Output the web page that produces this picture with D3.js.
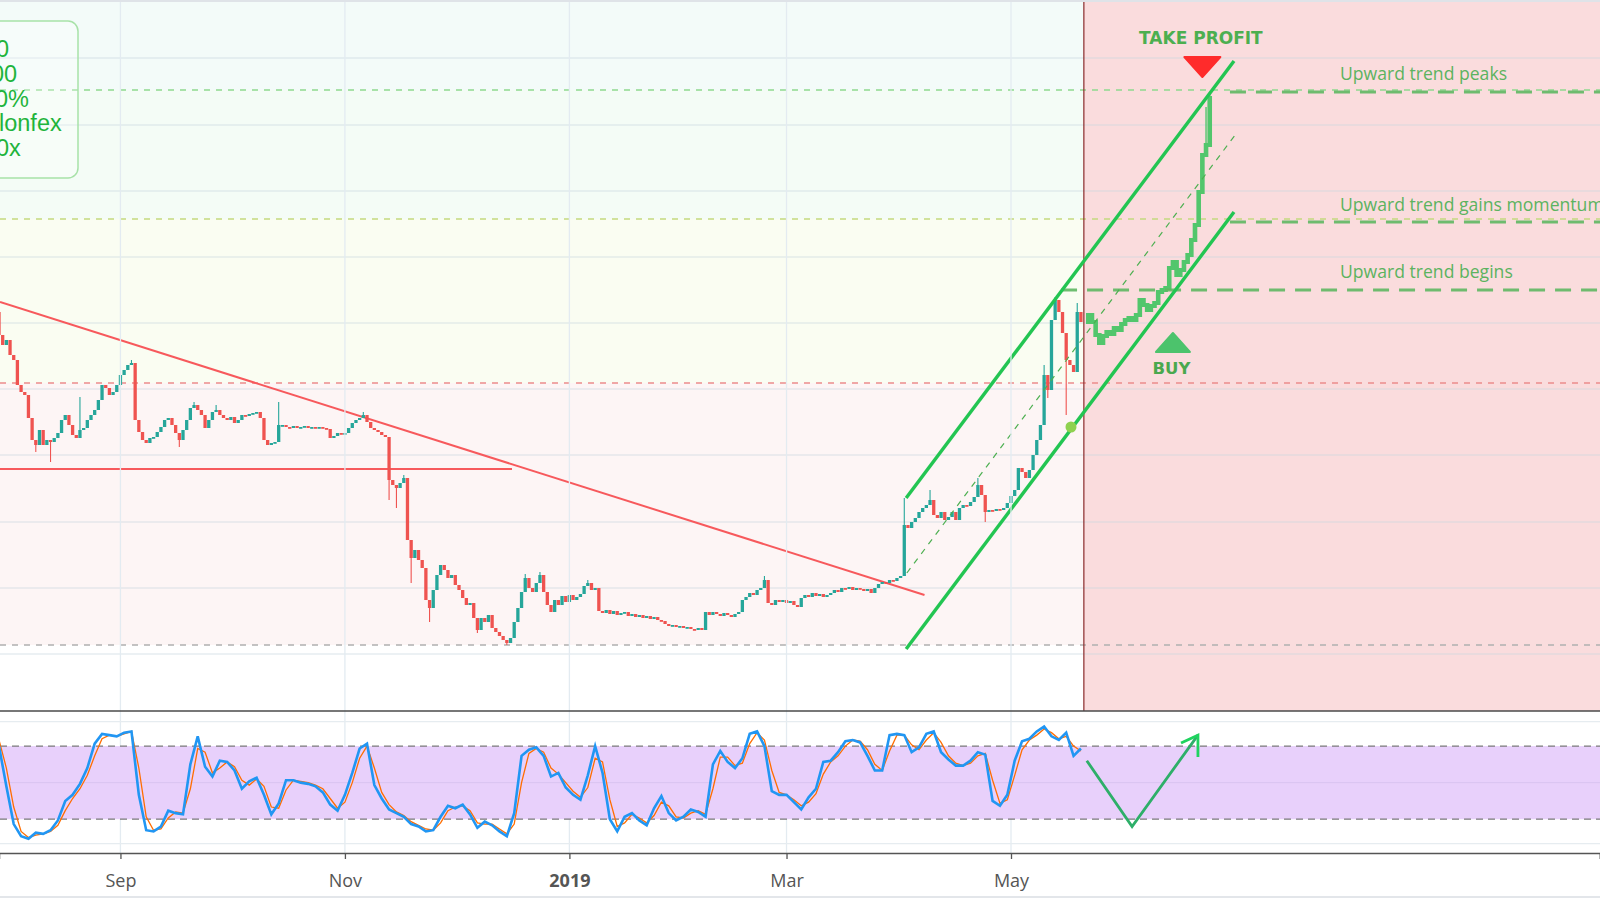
<!DOCTYPE html>
<html><head><meta charset="utf-8">
<script src="https://cdn.jsdelivr.net/npm/d3@7"></script>
<style>html,body{margin:0;padding:0;background:#fff;overflow:hidden}</style>
</head><body><svg id="c" width="1600" height="900"></svg>
<script>
// ---------------- DATA ----------------
const startDay = Date.UTC(2018, 6, 30);      // day index 0
const firstOpen = 688;
// daily closes, day 0 .. 294
const closes = [
665,655,660,645,640,615,608,605,582,560,
555,570,555,560,558,562,567,580,585,575,
565,562,570,572,580,585,590,600,615,612,
605,608,615,625,630,635,637,580,568,560,
557,562,563,568,573,580,582,575,567,560,
570,580,592,595,590,585,572,580,588,590,
585,582,580,583,577,580,585,584,586,587,
588,582,560,555,557,558,575,575,573,572,
574,572,573,574,572,573,572,573,572,571,
562,564,567,566,567,572,577,580,582,585,
578,572,570,568,565,563,520,515,512,517,
522,460,442,450,440,432,400,392,410,425,
435,430,422,425,415,410,402,395,397,382,
370,382,378,385,372,368,364,360,357,362,
378,392,408,422,412,408,417,425,408,395,
388,400,395,404,398,405,400,403,406,414,
417,410,412,389,387,390,386,389,385,387,
388,384,386,383,385,382,384,381,383,380,
379,376,374,375,373,374,372,373,371,370,
372,370,388,385,388,386,384,387,385,383,
386,388,400,403,407,405,410,412,420,397,
395,400,398,400,397,399,395,393,402,405,
403,407,404,406,403,405,407,410,408,412,
411,413,410,412,411,409,411,407,412,416,
418,417,420,419,422,424,475,472,478,482,
488,492,495,500,485,482,488,480,483,488,
480,492,495,494,498,503,515,505,488,490,
489,491,490,492,497,504,510,532,528,522,
530,545,560,575,625,610,680,700,688,667,
640,635,628,688,678
];
// notable wicks: [day, high, low]
const wicks = [
[10,null,548],[14,null,538],[22,603,null],[36,640,null],[49,null,553],[53,598,null],
[59,595,null],[76,598,null],[99,588,null],[106,null,500],[108,null,492],[110,525,null],
[112,null,417],[117,null,378],[130,null,367],[138,null,355],[143,426,null],[147,428,null],
[160,420,null],[208,424,null],[246,502,null],[253,510,null],[266,522,null],[268,null,478],
[284,635,null],[285,null,602],[287,703,null],[288,700,null],[290,null,585],[293,697,null]
];
// projected path (drawn in green), days 296 .. 329
const projStart = 296;
const projCloses = [685,678,665,657,664,668,666,672,670,676,680,682,680,685,700,695,690,694,697,708,
710,712,732,738,725,730,738,745,760,775,808,845,855,902];
const projWicks = [[328,893,null],[329,907,null]];

// Stoch RSI, one value every 2 days from day 0
const oscStep = 2;
const kValues = [80,47,16,6,4,9,8,11,19,35,40,49,62,82,90,89,88,91,92,40,
11,10,14,27,25,24,65,88,63,55,68,67,60,45,51,54,40,24,33,52,
52,50,49,47,42,32,27,40,58,78,82,48,37,28,25,22,16,14,10,11,
22,31,29,32,24,13,18,15,10,6,25,72,77,79,72,55,58,46,40,36,
56,80,58,20,10,22,25,19,15,29,39,25,19,22,28,26,22,65,76,67,
62,70,90,92,80,43,40,40,34,28,38,45,67,68,75,84,85,83,72,60,
60,89,90,89,75,79,90,92,75,69,64,64,68,75,73,35,31,40,68,84,
86,92,96,88,85,91,72,78];
const dValues = [85,62,30,10,5,7,8,10,15,27,37,45,56,72,86,89,88,90,92,62,
22,11,12,21,26,25,45,78,75,58,62,67,63,52,48,53,47,30,29,44,
52,51,50,48,45,37,29,34,50,70,80,62,42,32,26,23,18,15,12,11,
17,27,30,31,27,17,16,16,12,8,16,50,74,78,75,62,57,50,43,38,
46,70,67,36,14,17,24,21,17,23,34,31,22,21,25,27,24,45,71,71,
64,66,82,91,85,60,42,40,36,31,34,41,57,67,72,80,85,84,77,65,
60,76,89,89,81,77,85,91,83,72,66,64,66,72,74,52,33,36,56,77,
85,89,94,91,86,88,80,76];

const tickDates = ["2018-09-01","2018-11-01","2019-01-01","2019-03-01","2019-05-01"];
const tickLabels = ["Sep","Nov","2019","Mar","May"];
const gridPrices = [942,875,809,743,677,611,545,478,412,346];

// fib-style levels and bands
const bandEdges = [1000, 910, 781, 617, 355];
const bandColors = ["#f3fbf9","#f4fcf6","#fafdf2","#fdf5f5"];
const fibLevels = [910, 781, 617, 355];
const fibColors = ["#8fd98f","#c3d97f","#ec8c8c","#b0b0b0"];

// annotations: [day index, price]
const trendLine = [[0.27,698],[251.5,405]];
const supportLine = [[0.27,531],[139.4,531]];
const channelUpper = [[246.5,502],[335.6,939]];
const channelLower = [[246.5,351],[335.6,788]];
const channelMid = [[246.7,427],[335.9,865]];
const signalLevels = [ {p:908, from:334.5, label:"Upward trend peaks", lp:920},
                       {p:778, from:334.5, label:"Upward trend gains momentum", lp:789},
                       {p:710, from:288.6, label:"Upward trend begins", lp:722} ];
const labelDay = 364.4;
const cutDay = 294.8;
const dotPoint = [291.3, 573];
const takeProfit = {day:326.6, p:956, triDay:327.0, triTop:943, triApex:923};
const buy = {day:318.6, p:626, triDay:319.0, triApex:667, triBase:648};
// oscillator arrow: [day, value]
const arrowPath = [[295.6,68],[307.9,14],[325.8,89]];
const arrowHead = [[321.2,82.5],[325.8,89],[325.8,71]];
const boxLines = ["0","00","0%","lonfex","0x"];

// ---------------- CHART ----------------
const svg = d3.select("#c");
const W = 1600, mainBottom = 711, oscBottom = 853;
const dayDate = d => new Date(startDay + d * 864e5);
const x = d3.scaleUtc().domain([dayDate(0), dayDate(435)]).range([-1, -1 + 435 * 3.68]);
const xd = d => x(dayDate(d));
const y = d3.scaleLinear().domain([289, 1000]).range([mainBottom, 0]);
const yo = d3.scaleLinear().domain([0, 100]).range([843.6, 721.7]);

const defs = svg.append("defs");
defs.append("clipPath").attr("id","mainClip").append("rect").attr("x",0).attr("y",0).attr("width",W).attr("height",mainBottom);
defs.append("clipPath").attr("id","oscClip").append("rect").attr("x",0).attr("y",mainBottom).attr("width",W).attr("height",oscBottom-mainBottom);

const main = svg.append("g").attr("clip-path","url(#mainClip)");
// background bands
bandColors.forEach((c,i)=>{
  main.append("rect").attr("x",0).attr("width",W)
    .attr("y",y(bandEdges[i])).attr("height",y(bandEdges[i+1])-y(bandEdges[i])).attr("fill",c);
});
// pink future region
main.append("rect").attr("x",xd(cutDay)).attr("y",0).attr("width",W-xd(cutDay)).attr("height",mainBottom)
  .attr("fill","#fadcdd");
// grid
main.selectAll(".hg").data(gridPrices).enter().append("line")
  .attr("x1",0).attr("x2",W).attr("y1",d=>y(d)).attr("y2",d=>y(d))
  .attr("stroke","rgba(200,212,222,0.45)").attr("stroke-width",1.3);
const tickDs = tickDates.map(s=>new Date(s+"T00:00:00Z"));
svg.selectAll(".vg").data(tickDs).enter().append("line")
  .attr("x1",d=>x(d)).attr("x2",d=>x(d)).attr("y1",0).attr("y2",oscBottom)
  .attr("stroke","#e3ebf1").attr("stroke-width",1.3);

// fib lines
fibLevels.forEach((p,i)=>{
  main.append("line").attr("x1",0).attr("x2",W).attr("y1",y(p)).attr("y2",y(p))
    .attr("stroke",fibColors[i]).attr("stroke-width",1.6).attr("stroke-dasharray","6,6");
});
main.append("line").attr("x1",xd(cutDay)).attr("x2",xd(cutDay)).attr("y1",0).attr("y2",mainBottom)
  .attr("stroke","#8a2a2a").attr("stroke-width",1.2);
// support & trend line
const line = d3.line().x(d=>xd(d[0])).y(d=>y(d[1]));
main.append("path").attr("d",line(supportLine)).attr("stroke","#f7595c").attr("stroke-width",2).attr("fill","none");
main.append("path").attr("d",line(trendLine)).attr("stroke","#f7595c").attr("stroke-width",2).attr("fill","none");

// candles
const wickMap = new Map(wicks.map(w=>[w[0],w]));
const candles = closes.map((c,i)=>{
  const o = i===0 ? firstOpen : closes[i-1];
  const w = wickMap.get(i);
  let hi = Math.max(o,c), lo = Math.min(o,c);
  if (w){ if (w[1]!=null) hi = w[1]; if (w[2]!=null) lo = w[2]; }
  return {d:i,o,c,hi,lo,up:c>=o};
});
const cg = main.append("g");
const bw = 3.3;
cg.selectAll(".wk").data(candles).enter().append("line")
  .attr("x1",d=>xd(d.d)).attr("x2",d=>xd(d.d)).attr("y1",d=>y(d.hi)).attr("y2",d=>y(d.lo))
  .attr("stroke",d=>d.up?"#26a69a":"#ef5350").attr("stroke-width",1.1);
cg.selectAll(".bd").data(candles).enter().append("rect")
  .attr("x",d=>xd(d.d)-bw/2).attr("width",bw)
  .attr("y",d=>y(Math.max(d.o,d.c))).attr("height",d=>Math.max(1.8,Math.abs(y(d.o)-y(d.c))))
  .attr("fill",d=>d.up?"#26a69a":"#ef5350");

// projected candles
const pwMap = new Map(projWicks.map(w=>[w[0],w]));
const proj = projCloses.map((c,i)=>{
  const d = projStart + i;
  const o = i===0 ? closes[closes.length-1] : projCloses[i-1];
  const w = pwMap.get(d);
  let hi = Math.max(o,c), lo = Math.min(o,c);
  if (w){ if (w[1]!=null) hi = w[1]; if (w[2]!=null) lo = w[2]; }
  return {d,o,c,hi,lo};
});
const pg = main.append("g");
pg.selectAll(".pw").data(proj).enter().append("line")
  .attr("x1",d=>xd(d.d)).attr("x2",d=>xd(d.d)).attr("y1",d=>y(d.hi)).attr("y2",d=>y(d.lo))
  .attr("stroke","#52c66c").attr("stroke-width",1.4);
pg.selectAll(".pb").data(proj).enter().append("rect")
  .attr("x",d=>xd(d.d)-2.3).attr("width",4.6)
  .attr("y",d=>y(Math.max(d.o,d.c))-2).attr("height",d=>Math.abs(y(d.o)-y(d.c))+4)
  .attr("fill","#52c66c");

// thick signal levels
signalLevels.forEach(s=>{
  main.append("line").attr("x1",xd(s.from)).attr("x2",W).attr("y1",y(s.p)).attr("y2",y(s.p))
    .attr("stroke","#5fb862").attr("stroke-width",3).attr("stroke-dasharray","16,10").attr("opacity",0.9);
  main.append("text").attr("x",xd(labelDay)).attr("y",y(s.lp)).text(s.label)
    .attr("font-family","Open Sans, sans-serif").attr("font-size",17.6).attr("fill","#5cb35f");
});

// channel
main.append("path").attr("d",line(channelMid)).attr("stroke","#4caf50").attr("stroke-width",1.2)
  .attr("stroke-dasharray","6,6").attr("fill","none");
[channelUpper, channelLower].forEach(c=>{
  main.append("path").attr("d",line(c)).attr("stroke","#23c552").attr("stroke-width",3.4).attr("fill","none");
});
main.append("circle").attr("cx",xd(dotPoint[0])).attr("cy",y(dotPoint[1])).attr("r",5.5).attr("fill","#8fd14f");

// take profit
main.append("text").attr("x",xd(takeProfit.day)).attr("y",y(takeProfit.p)).attr("text-anchor","middle")
  .attr("font-family","DejaVu Sans, sans-serif").attr("font-weight","bold").attr("font-size",17)
  .attr("fill","#4caf50").text("TAKE PROFIT");
{
  const cx = xd(takeProfit.triDay), t = y(takeProfit.triTop), a = y(takeProfit.triApex);
  main.append("path").attr("d",`M${cx-18},${t} L${cx+18},${t} L${cx},${a} Z`)
    .attr("fill","#ff2b2b").attr("stroke","#ff2b2b").attr("stroke-width",2).attr("stroke-linejoin","round");
}
{
  const cx = xd(buy.triDay), a = y(buy.triApex), b = y(buy.triBase);
  main.append("path").attr("d",`M${cx-17},${b} L${cx+17},${b} L${cx},${a} Z`)
    .attr("fill","#4cc36c").attr("stroke","#4cc36c").attr("stroke-width",2).attr("stroke-linejoin","round");
}
main.append("text").attr("x",xd(buy.day)).attr("y",y(buy.p)).attr("text-anchor","middle")
  .attr("font-family","DejaVu Sans, sans-serif").attr("font-weight","bold").attr("font-size",16.5)
  .attr("fill","#4aa84e").text("BUY");

// info box
main.append("rect").attr("x",-20).attr("y",21).attr("width",98).attr("height",157).attr("rx",10)
  .attr("fill","rgba(255,255,255,0.25)").attr("stroke","#a8e2a8").attr("stroke-width",1.5);
const boxX = [-4,-9,-5,-1,-4];
boxLines.forEach((t,i)=>{
  main.append("text").attr("x",boxX[i]).attr("y",57+i*24.8).text(t)
    .attr("font-family","Liberation Sans, Arial, sans-serif").attr("font-size",23.5).attr("fill","#1fb43c");
});

// ---------------- OSCILLATOR ----------------
const osc = svg.append("g").attr("clip-path","url(#oscClip)");
osc.append("rect").attr("x",0).attr("width",W).attr("y",yo(80)).attr("height",yo(20)-yo(80)).attr("fill","#e8d0fb");
[100,0].forEach(v=>osc.append("line").attr("x1",0).attr("x2",W).attr("y1",yo(v)).attr("y2",yo(v)).attr("stroke","#e6ecf0").attr("stroke-width",1.3));
osc.append("line").attr("x1",0).attr("x2",W).attr("y1",yo(50)).attr("y2",yo(50)).attr("stroke","#d9c3f0").attr("stroke-width",1);
[80,20].forEach(v=>osc.append("line").attr("x1",0).attr("x2",W).attr("y1",yo(v)).attr("y2",yo(v))
  .attr("stroke","#7a7a7a").attr("stroke-width",1.2).attr("stroke-dasharray","7,5"));
const oline = d3.line().x((d,i)=>xd(i*oscStep)).y(d=>yo(d));
osc.append("path").attr("d",oline(dValues)).attr("stroke","#ff6d00").attr("stroke-width",1.3).attr("fill","none");
osc.append("path").attr("d",oline(kValues)).attr("stroke","#2196f3").attr("stroke-width",2.6).attr("fill","none");
const aline = d3.line().x(d=>xd(d[0])).y(d=>yo(d[1]));
osc.append("path").attr("d",aline(arrowPath)).attr("stroke","#2eaf69").attr("stroke-width",2.8).attr("fill","none");
osc.append("path").attr("d",aline(arrowHead)).attr("stroke","#1fd35f").attr("stroke-width",2.8).attr("fill","none");

// separators & axis
svg.append("line").attr("x1",0).attr("x2",W).attr("y1",1).attr("y2",1).attr("stroke","#dfe3e8").attr("stroke-width",2);
svg.append("line").attr("x1",0).attr("x2",W).attr("y1",mainBottom).attr("y2",mainBottom).attr("stroke","#4a4a4a").attr("stroke-width",1.3);
const axis = d3.axisBottom(x).tickValues(tickDs).tickSize(6).tickFormat((d,i)=>tickLabels[i]);
const ag = svg.append("g").attr("transform",`translate(0,${oscBottom})`).call(axis);
ag.select(".domain").attr("stroke","#555").attr("stroke-width",1.5);
ag.selectAll(".tick line").attr("stroke","#555").attr("stroke-width",1.3);
ag.selectAll(".tick text").attr("font-family","Open Sans, sans-serif").attr("font-size",18)
  .attr("fill","#555").attr("y",21).attr("dy","0.71em").attr("font-weight",(d,i)=>i===2?"bold":"normal");
svg.append("line").attr("x1",0).attr("x2",W).attr("y1",897).attr("y2",897).attr("stroke","#e3e6ea").attr("stroke-width",2);
</script>
</body></html>
